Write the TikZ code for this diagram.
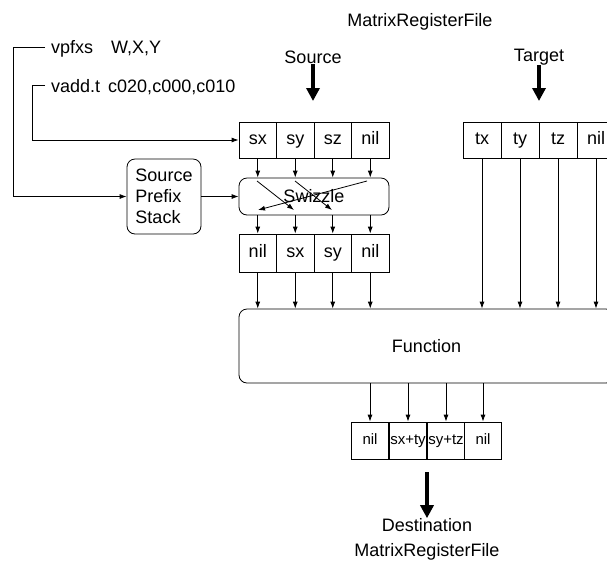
\documentclass[tikz,border=0pt]{standalone}
\usepackage{fontspec}
\setmainfont{Liberation Sans}
\usetikzlibrary{arrows.meta}
\tikzset{
  base/.style={font=\fontsize{18}{21}\selectfont},
  cell/.style={base,draw,line width=0.8pt,minimum width=37.5pt,minimum height=36pt,inner sep=0pt,text height=12.5pt,text depth=3.5pt},
  rcell/.style={draw,line width=0.8pt,font=\fontsize{15}{18}\selectfont,minimum height=37pt,inner sep=0pt,text width=37.75pt,align=center,text height=11pt,text depth=3pt},
  rbox/.style={base,draw,line width=0.8pt,rounded corners=8pt,inner sep=0pt},
  lbl/.style={base,inner sep=0pt},
  arr/.style={line width=0.8pt,-{Latex[length=7pt,width=5pt]}},
  bigarr/.style={line width=4pt,-{Triangle[length=13pt,width=13pt]}},
  ln/.style={line width=0.8pt}
}
\begin{document}
\begin{tikzpicture}[x=1pt,y=-1pt]
\useasboundingbox (0,0) rectangle (607,566);
% titles
\node[lbl] (mrf1) at (420,22) {MatrixRegisterFile};
\node[lbl] (src) at (313,57) {Source};
\node[lbl] (tgt) at (539,57) {Target};
\node[lbl,anchor=west] (vp) at (51,49) {vpfxs\hspace{18pt}W,X,Y};
\node[lbl,anchor=west] (va) at (51,87) {vadd.t\hspace{3pt} c020,c000,c010};
% source row
\node[cell] (a1) at (257.75,140) {sx};
\node[cell] (a2) at (295.25,140) {sy};
\node[cell] (a3) at (332.75,140) {sz};
\node[cell] (a4) at (370.25,140) {nil};
% target row
\node[cell,minimum width=38pt] (t1) at (482,140) {tx};
\node[cell,minimum width=38pt] (t2) at (520,140) {ty};
\node[cell,minimum width=38pt] (t3) at (558,140) {tz};
\node[cell,minimum width=38pt] (t4) at (596,140) {nil};
% swizzle and prefix stack
\node[rbox,minimum width=150pt,minimum height=37pt] (sw) at (314,196.5) {Swizzle};
\node[rbox,minimum width=74pt,minimum height=75pt,align=left] (sp) at (164,196.5) {Source\\Prefix\\Stack};
% second row
\node[cell,minimum height=38pt] (b1) at (257.75,253) {nil};
\node[cell,minimum height=38pt] (b2) at (295.25,253) {sx};
\node[cell,minimum height=38pt] (b3) at (332.75,253) {sy};
\node[cell,minimum height=38pt] (b4) at (370.25,253) {nil};
% function
\node[rbox,minimum width=375pt,minimum height=74pt] (fn) at (426.5,346) {Function};
% result row
\node[rcell] (d1) at (370,440.5) {nil};
\node[rcell] (d2) at (408,440.5) {sx+ty};
\node[rcell] (d3) at (446,440.5) {sy+tz};
\node[rcell] (d4) at (483,440.5) {nil};
\node[lbl] (dst) at (427,525) {Destination};
\node[lbl] (mrf2) at (427,552) {MatrixRegisterFile};
% big arrows
\coordinate (srctip) at (313,101);
\coordinate (tgttip) at (539,101);
\coordinate (dsttop) at (427,472);
\draw[bigarr] (src.south) -- (srctip);
\draw[bigarr] (tgt.south) -- (tgttip);
\draw[bigarr] (dsttop) -- (dst.north);
% left feed lines
\coordinate (outer) at (13,196.5);
\coordinate (inner) at (32,140);
\draw[arr] (vp.west) ++(-6,-2) -| (outer) -- (sp.west);
\draw[arr] (va.west) ++(-6,-2) -| (inner) -- (a1.west);
\draw[arr] (sp.east) -- (sw.west);
% source -> swizzle -> second row -> function
\foreach \i in {1,2,3,4}{
  \draw[arr] (a\i.south) -- (a\i.south |- sw.north);
  \draw[arr] (b\i.north |- sw.south) -- (b\i.north);
  \draw[arr] (b\i.south) -- (b\i.south |- fn.north);
  \draw[arr] (t\i.south) -- (t\i.south |- fn.north);
  \draw[arr] (d\i.north |- fn.south) -- (d\i.north);
}
% swizzle internal crossings
\coordinate (s1) at (257,181);
\coordinate (s2) at (295,181);
\coordinate (s4) at (367,181);
\coordinate (e2) at (294,210);
\coordinate (e3) at (332,210);
\coordinate (e1) at (258,210);
\draw[arr] (s1) -- (e2);
\draw[arr] (s2) -- (e3);
\draw[arr] (s4) -- (e1);
\end{tikzpicture}
\end{document}
